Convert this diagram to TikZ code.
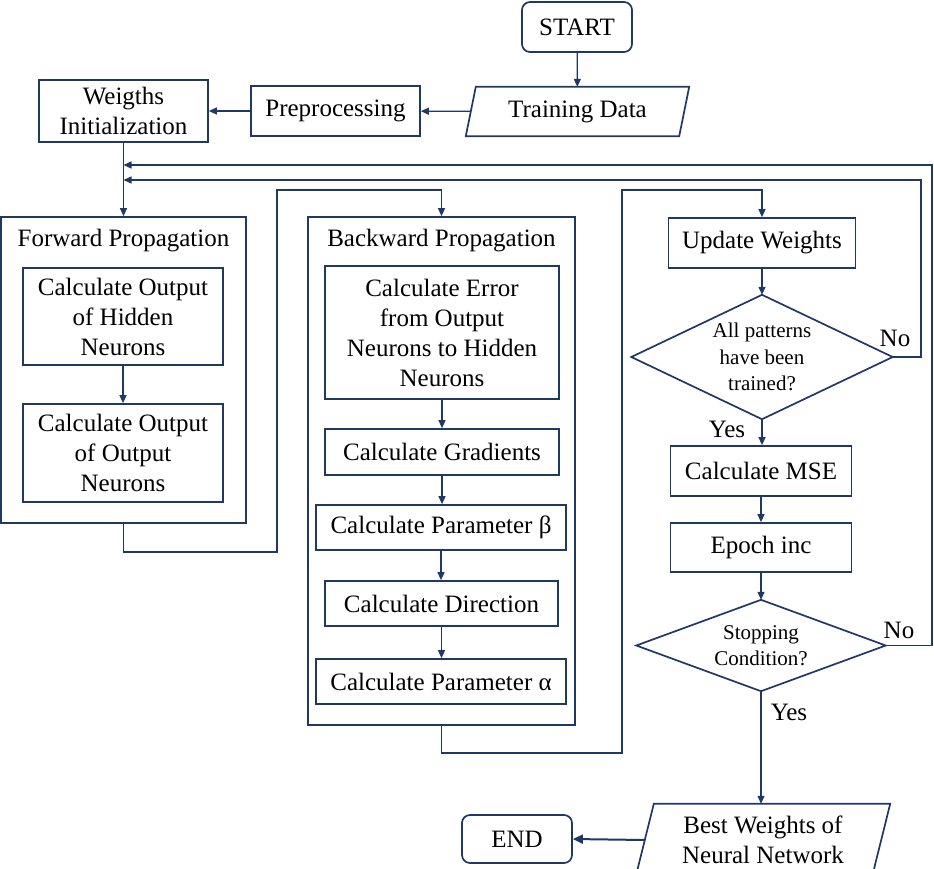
\documentclass[tikz,border=0pt]{standalone}
\usepackage{fontspec}
\setmainfont{Liberation Serif}
\usetikzlibrary{arrows.meta}
\definecolor{navy}{HTML}{203864}
\begin{document}
\begin{tikzpicture}[x=1pt,y=-1pt,
  every node/.style={font=\fontsize{25}{30}\selectfont, text=black, inner sep=0pt},
  box/.style={draw=navy, line width=1.7pt, align=center},
  rbox/.style={box, rounded corners=8pt},
  ghost/.style={align=center},
  small/.style={font=\fontsize{21}{26.5}\selectfont},
  conn/.style={draw=navy, line width=1.3pt},
  arr/.style={conn, -{Triangle[length=8pt,width=7pt]}},
  shapeline/.style={draw=navy, line width=1.7pt, line join=miter}]
\clip (0,0) rectangle (934,868);
\useasboundingbox (0,0) rectangle (934,868);
% top row
\node[rbox, minimum width=110, minimum height=50] (start) at (577,27) {START};
\node[ghost, minimum width=213, minimum height=49] (train) at (577.5,111.5) {Training Data};
\draw[shapeline] ([xshift=-5]train.south west) -- ([xshift=5]train.north west) -- ([xshift=5]train.north east) -- ([xshift=-5]train.south east) -- cycle;
\node[box, minimum width=169, minimum height=50] (prep) at (335.5,111) {Preprocessing};
\node[box, minimum width=169, minimum height=62] (winit) at (123.5,111) {Weigths\\Initialization};
% forward
\node[box, minimum width=245, minimum height=306] (fwd) at (123.5,370) {};
\node (ftitle) at (123.5,241) {Forward Propagation};
\node[box, minimum width=200, minimum height=97] (fo1) at (123,316.5) {Calculate Output\\of Hidden\\Neurons};
\node[box, minimum width=200, minimum height=98] (fo2) at (123,453) {Calculate Output\\of Output\\Neurons};
% backward
\node[box, minimum width=267, minimum height=508] (bwd) at (441.5,471) {};
\node (btitle) at (441.5,241) {Backward Propagation};
\node[box, minimum width=234, minimum height=133] (err) at (442,332.5) {Calculate Error\\from Output\\Neurons to Hidden\\Neurons};
\node[box, minimum width=234, minimum height=46] (grad) at (442,452) {Calculate Gradients};
\node[box, minimum width=250, minimum height=45] (beta) at (441,527.5) {Calculate Parameter β};
\node[box, minimum width=233, minimum height=45] (dir) at (441.5,603.5) {Calculate Direction};
\node[box, minimum width=250, minimum height=45] (alpha) at (441,681.5) {Calculate Parameter α};
% right column
\node[box, minimum width=187, minimum height=50] (upd) at (762,243) {Update Weights};
\node[ghost, small, minimum width=261, minimum height=124] (dia1) at (762,357) {All patterns\\have been\\trained?};
\draw[shapeline] (dia1.north) -- (dia1.east) -- (dia1.south) -- (dia1.west) -- cycle;
\node[box, minimum width=181, minimum height=50] (mse) at (761,471) {Calculate MSE};
\node[box, minimum width=181, minimum height=49] (epoch) at (761,547.5) {Epoch inc};
\node[ghost, small, minimum width=249, minimum height=91] (dia2) at (761,645.5) {Stopping\\Condition?};
\draw[shapeline] (dia2.north) -- (dia2.east) -- (dia2.south) -- (dia2.west) -- cycle;
\node[ghost, minimum width=236, minimum height=72] (best) at (763,840) {Best Weights of\\Neural Network};
\draw[shapeline] ([xshift=-9]best.south west) -- ([xshift=9]best.north west) -- ([xshift=9]best.north east) -- ([xshift=-9]best.south east) -- cycle;
\node[rbox, minimum width=110, minimum height=48] (end) at (517,839) {END};
% labels
\node (no1) at (895,338) {No};
\node (yes1) at (727,429) {Yes};
\node (no2) at (899,630) {No};
\node (yes2) at (789,712) {Yes};
% helper coordinates
\coordinate (j1) at (123.5,165);
\coordinate (j2) at (123.5,180);
\coordinate (r1) at (932,165);
\coordinate (r2) at (921,180);
\coordinate (f1) at (277,552);
\coordinate (f2) at (277,190);
\coordinate (b1) at (622,753);
\coordinate (b2) at (622,190);
% connectors
\draw[arr] (start) -- (train);
\draw[arr] (train) -- (prep);
\draw[arr] (prep) -- (winit);
\draw[arr] (winit) -- (fwd);
\draw[arr] (fo1) -- (fo2);
\draw[arr] (err) -- (grad);
\draw[arr] (grad.south) -- (grad.south |- beta.north);
\draw[arr] (beta.south) -- (beta.south |- dir.north);
\draw[arr] (dir.south) -- (dir.south |- alpha.north);
\draw[arr] (fwd.south) |- (f1) -- (f2) -| (bwd.north);
\draw[arr] (bwd.south) |- (b1) -- (b2) -| (upd.north);
\draw[arr] (upd) -- (dia1.north);
\draw[arr] (dia1.south) -- (dia1.south |- mse.north);
\draw[arr] (mse) -- (epoch);
\draw[arr] (epoch) -- (dia2.north);
\draw[arr] (dia2.south) -- (dia2.south |- best.north);
\draw[conn, -{Triangle[length=10pt,width=9pt]}, line width=2pt] (best.west) -- (end.east);
\draw[arr] (dia1.east) -| (r2) -- (j2);
\draw[arr] (dia2.east) -| (r1) -- (j1);
\end{tikzpicture}
\end{document}
